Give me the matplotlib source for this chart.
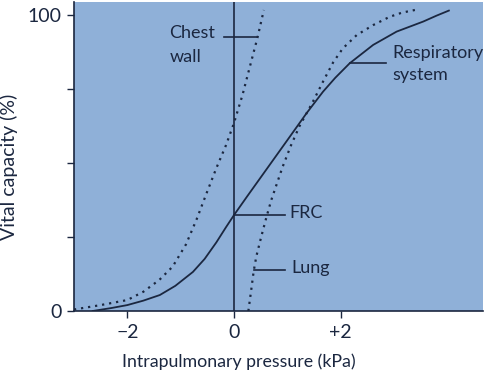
import matplotlib
matplotlib.use('Agg')
import matplotlib.pyplot as plt

plt.rcParams['font.family'] = ['Lato', 'DejaVu Sans']

# curves (pressure kPa, vital capacity %)
resp_x = [-2.65, -2.3, -2.0, -1.7, -1.39, -1.1, -0.77, -0.55, -0.33, -0.15, 0.0,
          0.25, 0.5, 0.75, 1.0, 1.36, 1.67, 1.9, 2.17, 2.61, 3.05, 3.55, 3.8, 4.03]
resp_y = [0, 1, 2, 3.5, 5.4, 8.5, 13.2, 17.6, 23.2, 28.3, 32.4,
          38.8, 45.1, 51.4, 57.7, 66.8, 74.1, 78.8, 83.7, 89.9, 94.4, 97.8, 99.8, 101.5]

chest_x = [-3.0, -2.5, -2.0, -1.7, -1.4, -1.15, -0.9, -0.7, -0.52, -0.33, -0.15,
           0.0, 0.16, 0.29, 0.44, 0.56]
chest_y = [0.5, 2, 3.7, 6.5, 10.5, 15, 22.5, 31, 39.5, 48.3, 56,
           63.5, 73, 82, 92.3, 101.7]

lung_x = [0.27, 0.33, 0.37, 0.42, 0.51, 0.61, 0.7, 0.91, 1.07, 1.23, 1.48, 1.67,
          1.86, 2.04, 2.3, 2.61, 2.92, 3.15, 3.42]
lung_y = [0, 8, 13.5, 18.5, 25, 31.8, 37.5, 48.6, 56, 62.5, 70.7, 77.5,
          84, 88.7, 93.2, 96.6, 99.4, 100.8, 101.8]

x_ticks = [-2, 0, 2]
x_ticklabels = ['\u22122', '0', '+2']
y_ticks = [0, 25, 50, 75, 100]
y_ticklabels = ['0', '', '', '', '100']

ink = '#1b2740'
bg = '#8fb0d8'

fig = plt.figure(figsize=(4.85, 3.74), dpi=100)
ax = fig.add_axes([74 / 485, 1 - 311 / 374, 409 / 485, 309 / 374])
ax.set_facecolor(bg)

ax.plot(resp_x, resp_y, color=ink, lw=1.3)
ax.plot(chest_x, chest_y, color=ink, lw=1.6, ls=(0, (1, 2.2)))
ax.plot(lung_x, lung_y, color=ink, lw=1.6, ls=(0, (1, 2.2)))
ax.axvline(0, color=ink, lw=1.2)

# pointer lines
ax.plot([-0.19, 0.44], [92.6, 92.6], color=ink, lw=1.2)
ax.plot([2.17, 2.86], [83.8, 83.8], color=ink, lw=1.2)
ax.plot([0, 0.95], [32.4, 32.4], color=ink, lw=1.2)
ax.plot([0.37, 0.95], [13.8, 13.8], color=ink, lw=1.2)

fs = 13
ax.text(-1.21, 92.2, 'Chest', fontsize=fs, color=ink, va='baseline')
ax.text(-1.21, 84.1, 'wall', fontsize=fs, color=ink, va='baseline')
ax.text(2.97, 85.5, 'Respiratory', fontsize=fs, color=ink, va='baseline')
ax.text(2.97, 78, 'system', fontsize=fs, color=ink, va='baseline')
ax.text(1.04, 31.4, 'FRC', fontsize=fs, color=ink, va='baseline')
ax.text(1.08, 12.8, 'Lung', fontsize=fs, color=ink, va='baseline')

ax.set_xlim(-3.0, 4.67)
ax.set_ylim(0, 104.4)
ax.set_xticks(x_ticks)
ax.set_xticklabels(x_ticklabels)
ax.set_yticks(y_ticks)
ax.set_yticklabels(y_ticklabels)
ax.tick_params(length=5, width=1, color=ink, labelcolor=ink, labelsize=14, pad=4)

for side in ['top', 'right']:
    ax.spines[side].set_visible(False)
for side in ['left', 'bottom']:
    ax.spines[side].set_color(ink)
    ax.spines[side].set_linewidth(1.2)

ax.set_xlabel('Intrapulmonary pressure (kPa)', fontsize=12.8, color=ink, va='center')
ax.xaxis.set_label_coords(0.403, -0.163)
ax.set_ylabel('Vital capacity (%)', fontsize=14, color=ink, va='center')
ax.yaxis.set_label_coords(-0.158, 0.466)

fig.savefig('out.png', dpi=100)
